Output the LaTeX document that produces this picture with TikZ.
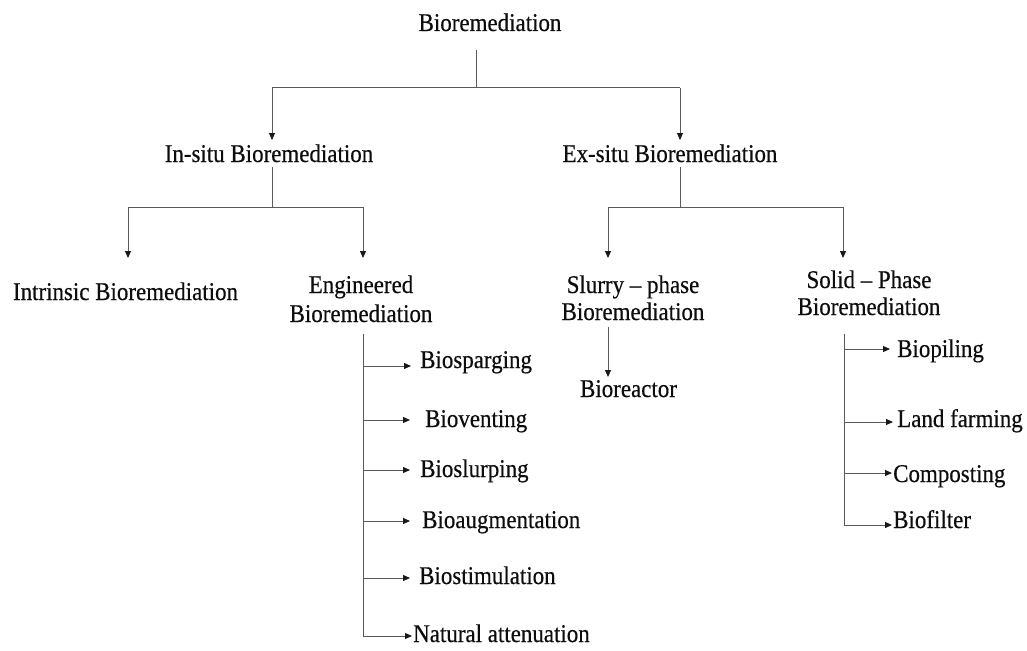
\documentclass[tikz,border=0pt]{standalone}
\usepackage{fontspec}
\setmainfont{Liberation Serif}[FakeStretch=0.9,FakeBold=0.4]
\usetikzlibrary{arrows.meta,calc}
\newcommand\leafarr[4]{\draw[arr] ($(#1 |- #2.base west)+(0,#3)$) -- ($(#2.base west)+(-#4,#3)$);}
\begin{document}
\begin{tikzpicture}[x=1pt,y=-1pt,
  every node/.style={inner sep=0pt,text=black!95,font=\fontsize{25.5}{28}\selectfont},
  ln/.style={draw=black!65,line width=1pt},
  arr/.style={ln,-{Triangle[length=7pt,width=6pt,color=black!90]}},
  lbl/.style={anchor=base},
  two/.style={anchor=base,align=center},
  leaf/.style={anchor=base west}]
\useasboundingbox (0,0) rectangle (1027,650);
\fill[white] (0,0) rectangle (1027,650);

% nodes
\node[lbl] (root) at (490,31) {Bioremediation};
\node[lbl] (insitu) at (269,162) {In-situ Bioremediation};
\node[lbl] (exsitu) at (670,162) {Ex-situ Bioremediation};
\node[lbl] (intr) at (125.5,300) {Intrinsic Bioremediation};
\node[two,font=\fontsize{25.5}{29}\selectfont] (eng) at (361,322) {Engineered\\Bioremediation};
\node[two,font=\fontsize{25.5}{27}\selectfont] (slurry) at (633,320) {Slurry -- phase\\Bioremediation};
\node[two,font=\fontsize{25.5}{27}\selectfont] (solid) at (869,315) {Solid -- Phase\\Bioremediation};
\node[lbl] (reactor) at (628.5,397) {Bioreactor};

\node[leaf] (bsp) at (420,368) {Biosparging};
\node[leaf] (bve) at (425,427) {Bioventing};
\node[leaf] (bsl) at (420,477) {Bioslurping};
\node[leaf] (bau) at (422,528) {Bioaugmentation};
\node[leaf] (bst) at (419,584) {Biostimulation};
\node[leaf] (nat) at (413,642) {Natural attenuation};

\node[leaf] (bpi) at (897,357) {Biopiling};
\node[leaf] (lfa) at (897,427) {Land farming};
\node[leaf] (com) at (893,482) {Composting};
\node[leaf] (bfi) at (893,528) {Biofilter};

% junctions
\coordinate (r0) at (476,88);
\coordinate (hL) at (272,88);
\coordinate (hR) at (680,88);
\coordinate (i0) at (272,207);
\coordinate (iL) at (128,207);
\coordinate (iR) at (363,207);
\coordinate (e0) at (680,207);
\coordinate (eL) at (608,207);
\coordinate (eR) at (843,207);
\coordinate (ev) at (363,636);
\coordinate (sv) at (844,525);
\coordinate (sx) at (608,327);

% level 1
\draw[ln] ($(root.base -| r0)+(0,19)$) -- (r0);
\draw[ln] (hL) -- (hR);
\draw[arr] (hL) -- ($(hL |- insitu.base)+(0,-22)$);
\draw[arr] (hR) -- ($(hR |- exsitu.base)+(0,-22)$);

% in-situ
\draw[ln] ($(insitu.base -| i0)+(0,5)$) -- (i0);
\draw[ln] (iL) -- (iR);
\draw[arr] (iL) -- ($(iL |- intr.base)+(0,-42)$);
\draw[arr] (iR) -- ($(iR |- eng.base)+(0,-64)$);

% ex-situ
\draw[ln] ($(exsitu.base -| e0)+(0,5)$) -- (e0);
\draw[ln] (eL) -- (eR);
\draw[arr] (eL) -- ($(eL |- slurry.base)+(0,-62)$);
\draw[arr] (eR) -- ($(eR |- solid.base)+(0,-57)$);

% slurry -> bioreactor
\draw[arr] (sx) -- ($(sx |- reactor.base)+(0,-20)$);

% engineered list
\draw[ln] ($(eng.south -| ev)+(0,12)$) -- (ev);
\leafarr{ev}{bsp}{-2}{9}
\leafarr{ev}{bve}{-7}{15}
\leafarr{ev}{bsl}{-7}{10}
\leafarr{ev}{bau}{-7}{12}
\leafarr{ev}{bst}{-6}{9}
\leafarr{ev}{nat}{-6}{1}

% solid list
\draw[ln] ($(solid.south -| sv)+(0,19)$) -- (sv);
\leafarr{sv}{bpi}{-8}{7}
\leafarr{sv}{lfa}{-5}{4}
\leafarr{sv}{com}{-9}{1}
\leafarr{sv}{bfi}{-3}{1}
\end{tikzpicture}
\end{document}
